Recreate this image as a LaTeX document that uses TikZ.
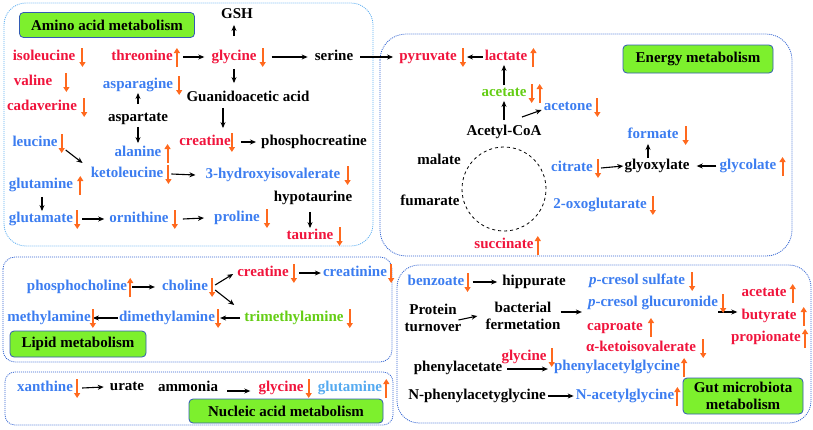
\documentclass[tikz,border=0pt]{standalone}
\usepackage{fontspec}
\setmainfont{Liberation Serif}
\usetikzlibrary{arrows.meta}

\definecolor{metred}{RGB}{240,20,60}
\definecolor{metblue}{RGB}{60,125,240}
\definecolor{metgreen}{RGB}{100,205,20}
\definecolor{metsky}{RGB}{85,170,240}
\definecolor{chgorange}{RGB}{255,105,30}
\definecolor{titlefill}{RGB}{125,240,45}
\definecolor{titleedge}{RGB}{50,90,180}
\definecolor{aminoedge}{RGB}{95,175,240}
\definecolor{regionedge}{RGB}{50,100,210}

\tikzset{
  met/.style={inner sep=1pt, text height=10.5pt, text depth=3pt},
  metr/.style={met, text=metred},
  metb/.style={met, text=metblue},
  metg/.style={met, text=metgreen},
  metk/.style={met},
  conn/.style={-{Stealth[length=6pt,width=5pt]}, line width=1.1pt},
  chg/.style={draw=chgorange, line width=2pt, -{Triangle[length=5pt,width=6pt]}},
  title/.style={draw=titleedge, fill=titlefill, line width=0.8pt, rounded corners=4pt},
  region/.style={draw=regionedge, line width=0.8pt, dash pattern=on 1pt off 1pt}
}
% orange change markers next to a node
\newcommand{\arrdn}[2]{\draw[chg] ([xshift=#2pt,yshift=9pt]#1.east) -- ([xshift=#2pt,yshift=-10pt]#1.east);}
\newcommand{\arrup}[2]{\draw[chg] ([xshift=#2pt,yshift=-10pt]#1.east) -- ([xshift=#2pt,yshift=9pt]#1.east);}

\begin{document}
\begin{tikzpicture}[x=1pt,y=-1pt,
  every node/.style={font=\fontsize{15}{17}\selectfont\bfseries}]
\useasboundingbox (0,0) rectangle (813,429);

% regions
\draw[region, draw=aminoedge, rounded corners=22pt] (4,3) rectangle (373,246);
\draw[region, rounded corners=26pt] (380,34) rectangle (792,256);
\draw[region, rounded corners=12pt] (3,257) rectangle (392,362);
\draw[region, rounded corners=10pt] (5,372) rectangle (393,425);
\draw[region, rounded corners=22pt] (397,265) rectangle (811,423);

% titles
\node[title, minimum width=175pt, minimum height=25pt] (tamino) at (107,25) {Amino acid metabolism};
\node[title, minimum width=150pt, minimum height=28pt] (tenergy) at (698,59) {Energy metabolism};
\node[title, minimum width=136pt, minimum height=26pt] (tlipid) at (78,344) {Lipid metabolism};
\node[title, minimum width=194pt, minimum height=24pt] (tnucl) at (286,411) {Nucleic acid metabolism};
\node[title, minimum width=120pt, minimum height=36pt, align=center, inner sep=1pt] (tgut) at (743,396) {Gut microbiota\\metabolism};

% amino acid metabolism
\node[metr] (iso) at (44,57) {isoleucine};
\node[metr] (val) at (33,82) {valine};
\node[metr] (cad) at (42,107) {cadaverine};
\node[metr] (thr) at (142,57) {threonine};
\node[metr] (gly) at (234,57) {glycine};
\node[metk] (ser) at (334,57) {serine};
\node[metk] (gsh) at (237,15) {GSH};
\node[metk] (guan) at (248,98) {Guanidoacetic acid};
\node[metr] (crea) at (205,142) {creatine};
\node[metk] (pcrea) at (314,142) {phosphocreatine};
\node[metb] (asn) at (138,85) {asparagine};
\node[metk] (asp) at (138,118) {aspartate};
\node[metb] (ala) at (138,153) {alanine};
\node[metb] (leu) at (35,143) {leucine};
\node[metb] (kleu) at (127,174) {ketoleucine};
\node[metb] (hiv) at (273,175) {3-hydroxyisovalerate};
\node[metb] (gln) at (41,185) {glutamine};
\node[metb] (glu) at (41,219) {glutamate};
\node[metb] (orn) at (139,219) {ornithine};
\node[metb] (pro) at (237,218) {proline};
\node[metk] (htau) at (313,198) {hypotaurine};
\node[metr] (tau) at (310,236) {taurine};

\draw[conn] ([xshift=9pt]thr.east) -- ([xshift=-6pt]gly.west);
\draw[conn] ([xshift=14pt]gly.east) -- ([xshift=-6pt]ser.west);
\draw[conn, shorten <=13pt, shorten >=2pt] (gly.north) -- (gly.north |- gsh.south);
\draw[conn, shorten <=4pt, shorten >=7pt] (gly.south) -- (gly.south |- guan.north);
\draw[conn, shorten <=2pt, shorten >=6pt] ([xshift=-25pt]guan.south) -- ([xshift=18pt]crea.north);
\draw[conn] ([xshift=9pt]crea.east) -- ([xshift=-4pt]pcrea.west);
\draw[conn, shorten <=6pt] (asp.north) -- (asn.south);
\draw[conn, shorten <=1pt, shorten >=2pt] (asp.south) -- (ala.north);
\draw[conn] ([xshift=7pt,yshift=-7pt]leu.east) -- ([xshift=-7pt,yshift=11pt]kleu.west);
\draw[conn] ([xshift=7pt]kleu.east) -- ([xshift=-9pt]hiv.west);
\draw[conn, shorten <=4pt] ([xshift=1pt]gln.south) -- ([xshift=1pt]glu.north);
\draw[conn] ([xshift=8pt]glu.east) -- ([xshift=-4pt]orn.west);
\draw[conn] ([xshift=13pt]orn.east) -- ([xshift=-9pt]pro.west);
\draw[conn, shorten <=6pt] (tau.north |- htau.south) -- (tau.north);

\arrdn{iso}{6} \arrdn{val}{13} \arrdn{cad}{6}
\arrup{thr}{3} \arrdn{gly}{5} \arrdn{crea}{0}
\arrdn{asn}{5} \arrup{ala}{5} \arrdn{leu}{3}
\arrdn{kleu}{4} \arrdn{hiv}{6} \arrup{gln}{6}
\arrdn{glu}{3} \arrdn{orn}{5} \arrdn{pro}{6} \arrdn{tau}{5}

% energy metabolism
\node[metr] (pyr) at (428,57) {pyruvate};
\node[metr] (lac) at (506,57) {lactate};
\node[metg] (ace) at (504,93) {acetate};
\node[metb] (acn) at (568,107) {acetone};
\node[metk] (acoa) at (504,132) {Acetyl-CoA};
\node[draw, circle, dashed, line width=0.8pt, minimum size=84pt] (tca) at (504,189) {};
\node[metk] (mal) at (439,161) {malate};
\node[metk] (fum) at (430,202) {fumarate};
\node[metb] (cit) at (572,168) {citrate};
\node[metk] (glx) at (657,166) {glyoxylate};
\node[metb] (form) at (653,135) {formate};
\node[metb] (glc) at (748,166) {glycolate};
\node[metb] (oxo) at (600,205) {2-oxoglutarate};
\node[metr] (suc) at (504,245) {succinate};

\draw[conn] ([xshift=6pt]ser.east) -- ([xshift=-5pt]pyr.west);
\draw[conn] ([xshift=-1pt]lac.west) -- ([xshift=9pt]pyr.east);
\draw[conn] (ace.north) -- (ace.north |- lac.south);
\draw[conn, shorten <=4pt] (acoa.north) -- (ace.south);
\draw[conn] ([xshift=18pt,yshift=15pt]acoa.center) -- ([xshift=-1pt,yshift=-3pt]acn.west);
\draw[conn] ([xshift=7pt]cit.east) -- (glx.west);
\draw[conn, shorten >=1pt] ([xshift=-9pt]glx.north) -- ([xshift=-5pt]form.south);
\draw[conn] ([xshift=-2pt]glc.west) -- ([xshift=6pt]glx.east);

\arrdn{pyr}{5} \arrup{lac}{5} \arrdn{ace}{4} \arrup{ace}{12}
\arrdn{acn}{4} \arrdn{form}{6} \arrdn{cit}{4} \arrup{glc}{5}
\arrdn{oxo}{5} \arrup{suc}{3}

% lipid metabolism
\node[metb] (pcho) at (77,287) {phosphocholine};
\node[metb] (cho) at (185,287) {choline};
\node[metr] (crt) at (263,273) {creatine};
\node[metb] (crtn) at (355,273) {creatinine};
\node[metg] (tma) at (294,318) {trimethylamine};
\node[metb] (dma) at (167,318) {dimethylamine};
\node[metb] (mma) at (49,318) {methylamine};

\draw[conn] ([xshift=4pt]pcho.east) -- ([xshift=-6pt]cho.west);
\draw[conn] ([xshift=6pt,yshift=2pt]cho.east) -- ([xshift=-3pt,yshift=-1pt]crt.west);
\draw[conn] ([xshift=6pt,yshift=-3pt]cho.east) -- ([xshift=-9pt,yshift=13pt]tma.west);
\draw[conn] ([xshift=9pt]crt.east) -- ([xshift=-1pt]crtn.west);
\draw[conn] ([xshift=-3pt]tma.west) -- ([xshift=4pt]dma.east);
\draw[conn] (dma.west) -- ([xshift=1pt]mma.east);

\arrup{pcho}{2} \arrdn{cho}{3} \arrdn{crt}{4} \arrdn{crtn}{3}
\arrdn{tma}{5} \arrdn{dma}{2} \arrdn{mma}{1}

% nucleic acid metabolism
\node[metb] (xan) at (45,388) {xanthine};
\node[metk] (ura) at (127,387) {urate};
\node[metk] (amm) at (188,388) {ammonia};
\node[metr] (glyn) at (281,388) {glycine};
\node[met, text=metsky] (glnn) at (350,388) {glutamine};

\draw[conn] ([xshift=8pt]xan.east) -- ([xshift=-5pt]ura.west);
\draw[conn] ([xshift=8pt,yshift=-3pt]amm.east) -- ([xshift=-7pt,yshift=-3pt]glyn.west);

\arrdn{xan}{3} \arrdn{glyn}{4} \arrup{glnn}{3}

% gut microbiota metabolism
\node[metb] (benz) at (436,282) {benzoate};
\node[metk] (hipp) at (534,282) {hippurate};
\node[metb] (pcs) at (637,281) {\textit{p}-cresol sulfate};
\node[align=center, inner sep=1pt] (prot) at (433,318) {Protein\\turnover};
\node[align=center, inner sep=1pt] (bact) at (523,316) {bacterial\\fermetation};
\node[metb] (pcg) at (653,303) {\textit{p}-cresol glucuronide};
\node[metr] (aceg) at (764,293) {acetate};
\node[metr] (but) at (769,316) {butyrate};
\node[metr] (prop) at (766,338) {propionate};
\node[metr] (capr) at (615,327) {caproate};
\node[metr] (akiv) at (641,348) {α-ketoisovalerate};
\node[metr] (glyg) at (524,357) {glycine};
\node[metk] (phac) at (458,368) {phenylacetate};
\node[metb] (pag) at (617,367) {phenylacetylglycine};
\node[metk] (npag) at (477,396) {N-phenylacetyglycine};
\node[metb] (nag) at (625,396) {N-acetylglycine};

\draw[conn] ([xshift=7pt]benz.east) -- ([xshift=-4pt]hipp.west);
\draw[conn] ([xshift=-4pt,yshift=-2pt]prot.east) -- ([xshift=-7pt]bact.west);
\draw[conn] ([xshift=-1pt,yshift=4pt]bact.east) -- ([xshift=-5pt,yshift=-9pt]pcg.west);
\draw[conn] ([xshift=-1pt,yshift=-9pt]pcg.east) -- ([xshift=-3pt,yshift=4pt]but.west);
\draw[conn] ([xshift=4pt,yshift=-1pt]phac.east) -- ([xshift=-5pt,yshift=-2pt]pag.west);
\draw[conn] ([xshift=1pt]npag.east) -- ([xshift=-1pt]nag.west);

\arrdn{benz}{2} \arrdn{pcs}{6} \arrdn{pcg}{4}
\arrup{aceg}{5} \arrup{but}{6} \arrup{prop}{3}
\arrup{capr}{7} \arrdn{akiv}{6} \arrdn{glyg}{4}
\arrup{pag}{3} \arrup{nag}{2}
\end{tikzpicture}
\end{document}
